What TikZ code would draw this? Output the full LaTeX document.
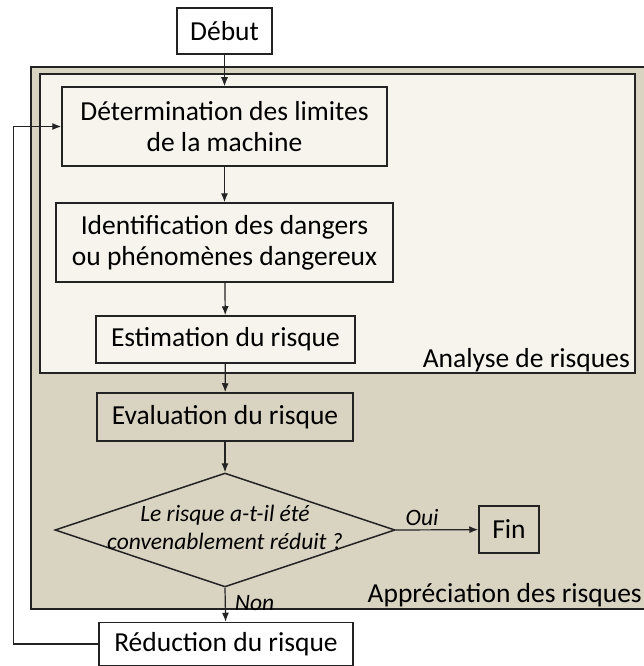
\documentclass[tikz,border=0pt]{standalone}
\usepackage{fontspec}
\setmainfont{Carlito}
\usetikzlibrary{shapes.geometric,arrows.meta}
\definecolor{sable}{RGB}{217,211,193}
\definecolor{creme}{RGB}{246,244,237}
\definecolor{trait}{RGB}{35,35,35}
\begin{document}
\begin{tikzpicture}[x=1pt,y=-1pt,
    every node/.style={font=\fontsize{27.5}{31}\selectfont, inner sep=0pt, align=center},
    etape/.style={draw=trait, line width=1.5pt},
    cadre/.style={draw=trait, line width=1.5pt},
    losange/.style={diamond, draw=trait, line width=1.5pt, inner sep=0pt},
    question/.style={font=\fontsize{23.5}{28}\selectfont\itshape},
    choix/.style={font=\fontsize{23.5}{28}\selectfont\itshape},
    fleche/.style={draw=trait, line width=1.2pt, -{Latex[length=9pt,width=7pt]}}]
  \clip (0,0) rectangle (644,666);
  % cadres
  \draw[cadre, fill=sable] (31,67) rectangle (670,609);
  \draw[cadre, fill=creme] (40,74) rectangle (635,373);
  \node[anchor=base east] (analyse) at (630,367) {Analyse de risques};
  \node[anchor=base east] (appreciation) at (642,602) {Appréciation des risques};
  % etapes
  \node[etape, fill=white, minimum width=95, minimum height=46] (debut) at (224.5,31) {Début};
  \node[etape, minimum width=325, minimum height=79] (limites) at (224.5,126.5) {Détermination des limites\\de la machine};
  \node[etape, minimum width=337, minimum height=79] (dangers) at (224.5,242.5) {Identification des dangers\\ou phénomènes dangereux};
  \node[etape, minimum width=259, minimum height=47] (estim) at (225.5,339.5) {Estimation du risque};
  \node[etape, minimum width=256, minimum height=48] (eval) at (225,417) {Evaluation du risque};
  \node[losange, minimum width=340, minimum height=114] (test) at (225,530) {};
  \node[question] (testtexte) at (225,527) {Le risque a-t-il été\\convenablement réduit ?};
  \node[etape, fill=sable, minimum width=60, minimum height=47] (fin) at (509,529.5) {Fin};
  \node[etape, fill=white, minimum width=254, minimum height=43] (reduc) at (226,644) {Réduction du risque};
  % liaisons
  \draw[fleche] (debut) -- (limites);
  \draw[fleche] (limites) -- (dangers);
  \draw[fleche] (dangers) -- (estim);
  \draw[fleche] (estim) -- (eval);
  \draw[fleche] (eval) -- (test);
  \draw[fleche] (test.east) -- node[choix, pos=.32, above=4pt] {Oui} (fin);
  \draw[fleche] (test.south) -- node[choix, right=9pt, pos=.45] {Non} (reduc);
  \draw[fleche] (reduc.west) -- ++(-85,0) |- (limites.west);
\end{tikzpicture}
\end{document}
